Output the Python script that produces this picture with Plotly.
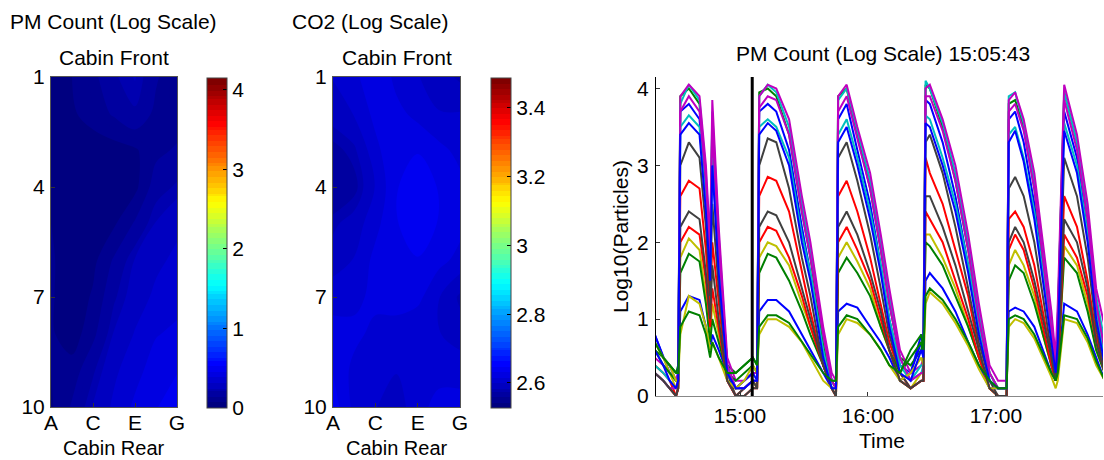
import plotly.graph_objects as go

W, H = 1104, 460
FONT = "Liberation Sans, Arial, sans-serif"

# ---------------- data: cabin grids ----------------
ROWS = [1, 2, 3, 4, 5, 6, 7, 8, 9, 10]
COLS = ["A", "B", "C", "D", "E", "F", "G"]
COL_TICKS = ["A", "C", "E", "G"]
ROW_TICKS = [1, 4, 7, 10]

PM_GRID = [
    [0.05, 0.07, 0.12, 0.20, 0.25, 0.15, 0.08],
    [0.05, 0.06, 0.10, 0.15, 0.20, 0.12, 0.10],
    [0.05, 0.04, 0.03, 0.04, 0.06, 0.12, 0.15],
    [0.06, 0.03, 0.02, 0.02, 0.05, 0.18, 0.22],
    [0.07, 0.03, 0.02, 0.06, 0.15, 0.25, 0.30],
    [0.08, 0.03, 0.05, 0.15, 0.25, 0.30, 0.33],
    [0.08, 0.02, 0.08, 0.20, 0.28, 0.33, 0.36],
    [0.08, 0.03, 0.12, 0.25, 0.32, 0.38, 0.40],
    [0.07, 0.10, 0.20, 0.30, 0.36, 0.42, 0.45],
    [0.06, 0.15, 0.25, 0.33, 0.40, 0.45, 0.50],
]

CO2_GRID = [
    [2.60, 2.61, 2.63, 2.61, 2.60, 2.59, 2.58],
    [2.59, 2.60, 2.62, 2.62, 2.61, 2.60, 2.60],
    [2.57, 2.58, 2.61, 2.63, 2.63, 2.62, 2.61],
    [2.56, 2.57, 2.60, 2.63, 2.64, 2.63, 2.62],
    [2.58, 2.59, 2.61, 2.63, 2.64, 2.63, 2.62],
    [2.59, 2.60, 2.62, 2.63, 2.63, 2.62, 2.61],
    [2.61, 2.61, 2.62, 2.62, 2.62, 2.60, 2.58],
    [2.62, 2.62, 2.61, 2.61, 2.60, 2.60, 2.59],
    [2.63, 2.61, 2.60, 2.60, 2.60, 2.61, 2.61],
    [2.64, 2.61, 2.60, 2.59, 2.61, 2.62, 2.62],
]

PM_RANGE = [0, 4.15]
PM_CB_TICKS = [0, 1, 2, 3, 4]
CO2_RANGE = [2.527, 3.487]
CO2_CB_TICKS = [2.6, 2.8, 3.0, 3.2, 3.4]
CO2_CB_TEXT = ["2.6", "2.8", "3", "3.2", "3.4"]

# ---------------- data: time series ----------------
DATE = "2012-01-01"
TIMES = [
    "14:20", "14:24", "14:27", "14:30", "14:31", "14:32", "14:36", "14:41", "14:44", "14:46", "14:47", "14:50", "14:54", "14:58", "15:02", "15:06",
    "15:08", "15:09", "15:13", "15:17", "15:23", "15:29", "15:33", "15:39", "15:43",
    "15:45", "15:46", "15:50", "15:55", "16:01", "16:06", "16:10", "16:15", "16:20", "16:25",
    "16:26", "16:27", "16:29", "16:35", "16:41", "16:47", "16:52", "16:57", "17:01", "17:04",
    "17:05", "17:06", "17:09", "17:13", "17:18", "17:22", "17:26", "17:28",
    "17:29", "17:32", "17:38", "17:43", "17:47", "17:51",
]

s01_blue = [0.8, 0.5, 0.3, 0.2, 0.3, 3.7, 3.8, 3.6, 2.6, 1.6, 3.3, 1.8, 0.4, 0.1, 0.2, 0.3,
            0.3, 3.7, 3.8, 3.7, 3.2, 2.2, 1.6, 0.6, 0.2,
            0.1, 3.6, 3.8, 3.2, 2.5, 1.7, 1.0, 0.4, 0.3, 0.8,
            0.6, 3.85, 3.8, 3.3, 2.6, 1.7, 0.9, 0.2, 0.1, 0.1,
            0.1, 3.6, 3.7, 3.3, 2.5, 1.6, 0.8, 0.3,
            0.8, 3.7, 3.1, 2.1, 1.1, 0.5]
s02_green = [0.6, 0.5, 0.4, 0.3, 0.4, 3.9, 4.0, 3.8, 2.8, 1.8, 3.6, 2.0, 0.4, 0.3, 0.4, 0.5,
             0.4, 3.95, 4.0, 3.9, 3.4, 2.4, 1.8, 0.7, 0.2,
             0.2, 3.9, 4.0, 3.4, 2.7, 1.9, 1.2, 0.5, 0.4, 0.6,
             0.7, 4.05, 4.0, 3.5, 2.8, 1.9, 1.0, 0.3, 0.1, 0.1,
             0.1, 3.8, 3.85, 3.5, 2.7, 1.8, 0.9, 0.4,
             1.0, 3.95, 3.3, 2.3, 1.2, 0.6]
s03_red = [0.4, 0.3, 0.2, 0.0, 0.1, 2.6, 2.8, 2.7, 1.9, 1.1, 2.0, 1.2, 0.2, 0.0, 0.1, 0.2,
           0.1, 2.6, 2.85, 2.8, 2.4, 1.6, 1.1, 0.4, 0.1,
           0.0, 2.6, 2.8, 2.4, 1.8, 1.2, 0.7, 0.3, 0.1, 0.2,
           0.2, 3.1, 2.9, 2.5, 1.9, 1.3, 0.6, 0.1, 0.0, 0.0,
           0.0, 2.3, 2.4, 2.2, 1.7, 1.1, 0.5, 0.2,
           0.4, 2.6, 2.2, 1.5, 0.8, 0.3]
s04_cyan = [0.4, 0.3, 0.2, 0.1, 0.2, 3.8, 4.05, 3.85, 2.9, 1.9, 3.7, 2.1, 0.4, 0.1, 0.1, 0.2,
            0.2, 3.9, 4.05, 3.95, 3.5, 2.5, 1.9, 0.8, 0.2,
            0.1, 3.85, 4.0, 3.45, 2.8, 2.0, 1.3, 0.5, 0.2, 0.3,
            0.4, 4.1, 4.0, 3.55, 2.9, 2.0, 1.1, 0.3, 0.1, 0.1,
            0.1, 3.9, 3.95, 3.55, 2.8, 1.9, 1.0, 0.4,
            1.0, 3.95, 3.3, 2.4, 1.3, 0.7]
s05_magenta = [0.5, 0.4, 0.3, 0.2, 0.3, 3.9, 4.05, 3.9, 3.0, 2.0, 3.85, 2.2, 0.5, 0.2, 0.2, 0.3,
               0.3, 3.9, 4.05, 4.0, 3.6, 2.6, 2.0, 0.9, 0.3,
               0.2, 3.9, 4.05, 3.5, 2.9, 2.1, 1.4, 0.6, 0.3, 0.4,
               0.5, 4.0, 4.05, 3.6, 3.0, 2.1, 1.2, 0.4, 0.2, 0.2,
               0.2, 3.85, 3.95, 3.6, 2.9, 2.0, 1.1, 0.5,
               1.2, 4.05, 3.4, 2.5, 1.4, 0.9]
s06_yellow = [0.7, 0.5, 0.3, 0.1, 0.1, 1.8, 2.05, 1.9, 1.3, 0.8, 1.2, 0.8, 0.2, 0.1, 0.1, 0.2,
              0.1, 1.8, 2.0, 1.95, 1.7, 1.2, 0.9, 0.4, 0.1,
              0.0, 1.8, 2.0, 1.75, 1.4, 0.9, 0.6, 0.2, 0.1, 0.3,
              0.3, 2.1, 2.1, 1.8, 1.4, 0.9, 0.5, 0.1, 0.0, 0.0,
              0.0, 1.7, 1.9, 1.7, 1.3, 0.8, 0.4, 0.2,
              0.3, 1.95, 1.7, 1.2, 0.6, 0.3]
s07_gray = [0.3, 0.2, 0.1, 0.0, 0.1, 3.0, 3.3, 3.1, 2.2, 1.3, 2.5, 1.4, 0.3, 0.0, 0.1, 0.2,
            0.1, 3.0, 3.35, 3.3, 2.7, 1.8, 1.3, 0.4, 0.1,
            0.0, 3.1, 3.3, 2.8, 2.1, 1.4, 0.8, 0.3, 0.1, 0.2,
            0.2, 3.3, 3.4, 2.9, 2.2, 1.4, 0.7, 0.2, 0.0, 0.0,
            0.0, 2.7, 2.85, 2.6, 2.0, 1.3, 0.6, 0.2,
            0.5, 3.1, 2.6, 1.8, 0.9, 0.3]
s08_blue = [0.8, 0.5, 0.4, 0.2, 0.2, 1.1, 1.3, 1.25, 0.9, 0.6, 0.8, 0.6, 0.3, 0.1, 0.2, 0.3,
            0.2, 1.1, 1.25, 1.25, 1.1, 0.8, 0.6, 0.3, 0.1,
            0.1, 1.1, 1.2, 1.15, 0.9, 0.7, 0.5, 0.2, 0.3, 0.7,
            0.6, 1.5, 1.6, 1.4, 1.1, 0.7, 0.4, 0.1, 0.1, 0.1,
            0.1, 1.1, 1.15, 1.1, 0.9, 0.6, 0.3, 0.2,
            0.3, 1.2, 1.1, 0.8, 0.5, 0.2]
s09_green = [0.6, 0.4, 0.3, 0.2, 0.2, 1.6, 1.85, 1.75, 1.2, 0.7, 1.0, 0.7, 0.3, 0.2, 0.3, 0.4,
             0.3, 1.6, 1.85, 1.8, 1.5, 1.1, 0.8, 0.4, 0.2,
             0.1, 1.6, 1.8, 1.6, 1.3, 0.9, 0.6, 0.3, 0.5, 0.7,
             0.5, 2.0, 1.95, 1.7, 1.3, 0.9, 0.5, 0.2, 0.1, 0.1,
             0.1, 1.5, 1.7, 1.6, 1.2, 0.8, 0.4, 0.2,
             0.4, 1.8, 1.6, 1.1, 0.6, 0.3]
s10_red = [0.3, 0.2, 0.1, 0.0, 0.1, 2.0, 2.2, 2.1, 1.5, 0.9, 1.4, 0.9, 0.2, 0.0, 0.0, 0.1,
           0.1, 2.0, 2.2, 2.15, 1.8, 1.3, 0.9, 0.4, 0.1,
           0.0, 2.0, 2.2, 1.9, 1.5, 1.0, 0.6, 0.2, 0.1, 0.2,
           0.2, 2.4, 2.3, 2.0, 1.5, 1.0, 0.5, 0.1, 0.0, 0.0,
           0.0, 1.9, 2.1, 1.9, 1.4, 0.9, 0.4, 0.2,
           0.3, 2.1, 1.8, 1.3, 0.7, 0.3]
s11_cyan = [0.3, 0.2, 0.1, 0.1, 0.2, 3.5, 3.65, 3.5, 2.5, 1.6, 3.1, 1.7, 0.3, 0.1, 0.1, 0.2,
            0.2, 3.5, 3.6, 3.5, 3.1, 2.1, 1.6, 0.6, 0.1,
            0.1, 3.4, 3.6, 3.1, 2.4, 1.7, 1.0, 0.4, 0.2, 0.4,
            0.4, 3.65, 3.6, 3.1, 2.5, 1.7, 0.9, 0.2, 0.1, 0.1,
            0.1, 3.4, 3.5, 3.1, 2.4, 1.6, 0.8, 0.3,
            0.8, 3.55, 3.0, 2.1, 1.1, 0.5]
s12_magenta = [0.3, 0.2, 0.1, 0.1, 0.2, 3.7, 3.9, 3.7, 2.8, 1.8, 3.5, 2.0, 0.4, 0.1, 0.1, 0.2,
               0.2, 3.75, 3.9, 3.85, 3.4, 2.4, 1.8, 0.8, 0.2,
               0.1, 3.7, 3.9, 3.35, 2.7, 1.9, 1.2, 0.5, 0.2, 0.3,
               0.3, 3.9, 3.9, 3.45, 2.8, 1.9, 1.0, 0.3, 0.1, 0.1,
               0.1, 3.7, 3.8, 3.45, 2.7, 1.8, 0.9, 0.4,
               0.9, 3.85, 3.2, 2.3, 1.2, 0.6]
s13_yellow = [0.7, 0.5, 0.4, 0.2, 0.2, 0.8, 1.3, 1.2, 0.9, 0.6, 0.7, 0.5, 0.2, 0.1, 0.2, 0.4,
              0.3, 0.8, 1.0, 1.0, 0.9, 0.7, 0.5, 0.2, 0.1,
              0.1, 0.8, 1.0, 0.95, 0.8, 0.6, 0.4, 0.2, 0.3, 0.5,
              0.4, 1.2, 1.35, 1.2, 0.95, 0.65, 0.35, 0.1, 0.1, 0.1,
              0.1, 0.9, 1.0, 0.95, 0.75, 0.5, 0.25, 0.1,
              0.2, 1.0, 0.95, 0.7, 0.4, 0.2]
s14_gray = [0.3, 0.2, 0.1, 0.0, 0.1, 2.2, 2.4, 2.3, 1.6, 1.0, 1.7, 1.0, 0.2, 0.0, 0.0, 0.1,
            0.1, 2.2, 2.4, 2.35, 2.0, 1.4, 1.0, 0.4, 0.1,
            0.0, 2.2, 2.4, 2.1, 1.6, 1.1, 0.6, 0.2, 0.1, 0.2,
            0.2, 2.6, 2.6, 2.2, 1.7, 1.1, 0.6, 0.1, 0.0, 0.0,
            0.0, 2.0, 2.2, 2.0, 1.5, 1.0, 0.5, 0.2,
            0.4, 2.3, 2.0, 1.4, 0.7, 0.3]
s15_blue = [0.6, 0.4, 0.2, 0.1, 0.2, 3.4, 3.55, 3.4, 2.4, 1.5, 3.0, 1.6, 0.3, 0.1, 0.1, 0.2,
            0.2, 3.4, 3.55, 3.45, 3.0, 2.0, 1.5, 0.5, 0.1,
            0.1, 3.3, 3.5, 3.0, 2.3, 1.6, 0.9, 0.3, 0.2, 0.6,
            0.5, 3.55, 3.5, 3.0, 2.4, 1.6, 0.8, 0.2, 0.1, 0.1,
            0.1, 3.3, 3.45, 3.05, 2.3, 1.5, 0.7, 0.3,
            0.7, 3.45, 2.9, 2.0, 1.0, 0.4]
s16_green = [0.7, 0.5, 0.4, 0.3, 0.3, 0.9, 1.1, 1.05, 0.8, 0.5, 0.7, 0.5, 0.3, 0.3, 0.4, 0.5,
             0.4, 0.9, 1.05, 1.05, 0.95, 0.7, 0.55, 0.3, 0.2,
             0.2, 0.9, 1.05, 1.0, 0.8, 0.6, 0.4, 0.3, 0.6, 0.8,
             0.6, 1.3, 1.4, 1.25, 1.0, 0.7, 0.4, 0.2, 0.1, 0.1,
             0.1, 1.0, 1.05, 1.0, 0.8, 0.55, 0.3, 0.2,
             0.3, 1.05, 1.0, 0.75, 0.45, 0.2]

SERIES = [s01_blue, s02_green, s03_red, s04_cyan, s05_magenta, s06_yellow, s07_gray, s08_blue,
          s09_green, s10_red, s11_cyan, s12_magenta, s13_yellow, s14_gray, s15_blue, s16_green]
SERIES_COLORS = ["rgb(0,0,255)", "rgb(0,128,0)", "rgb(255,0,0)", "rgb(0,191,191)",
                 "rgb(191,0,191)", "rgb(191,191,0)", "rgb(64,64,64)"]

MARK_TIME = "15:05:43"
TIME_RANGE = ["14:20:36", "17:50:12"]
TIME_TICKS = ["15:00", "16:00", "17:00"]
Y3_RANGE = [0, 4.15]
Y3_TICKS = [0, 1, 2, 3, 4]


# ---------------- helpers ----------------
def fx(px):
    return px / W


def fy(py):
    return 1 - py / H


def jet(v):
    c = lambda t: max(0.0, min(1.0, t))
    return (c(1.5 - abs(4 * v - 3)), c(1.5 - abs(4 * v - 2)), c(1.5 - abs(4 * v - 1)))


JET = []
N = 64
for i in range(N):
    r, g, b = jet(i / (N - 1))
    col = f"rgb({round(r*255)},{round(g*255)},{round(b*255)})"
    JET.append([i / N, col])
    JET.append([(i + 1) / N, col])

FS = 21
tick_font = dict(family=FONT, size=FS, color="black")

fig = go.Figure()

col_idx = list(range(len(COLS)))


def cbar(x_left, tickvals, ticktext):
    return dict(
        x=fx(x_left), xanchor="left", xpad=0, ypad=0,
        y=fy(243), yanchor="middle", len=330 / H, lenmode="fraction",
        thickness=20, thicknessmode="pixels",
        tickvals=tickvals, ticktext=ticktext, ticks="inside", ticklen=4,
        tickcolor="black", tickfont=tick_font, outlinecolor="#444", outlinewidth=1,
    )


fig.add_trace(go.Contour(
    x=col_idx, y=ROWS, z=PM_GRID, colorscale=JET, zmin=PM_RANGE[0], zmax=PM_RANGE[1],
    autocontour=False,
    contours=dict(start=PM_RANGE[0], end=PM_RANGE[1], size=0.035, coloring="fill", showlines=False),
    line=dict(width=0), hoverinfo="skip",
    colorbar=cbar(207, PM_CB_TICKS, [str(v) for v in PM_CB_TICKS]),
    xaxis="x", yaxis="y",
))

fig.add_trace(go.Contour(
    x=col_idx, y=ROWS, z=CO2_GRID, colorscale=JET, zmin=CO2_RANGE[0], zmax=CO2_RANGE[1],
    autocontour=False,
    contours=dict(start=CO2_RANGE[0], end=CO2_RANGE[1], size=0.008, coloring="fill", showlines=False),
    line=dict(width=0), hoverinfo="skip",
    colorbar=cbar(491, CO2_CB_TICKS, CO2_CB_TEXT),
    xaxis="x2", yaxis="y2",
))

xs = [f"{DATE} {t}" for t in TIMES]
for i, s in enumerate(SERIES):
    fig.add_trace(go.Scatter(
        x=xs, y=s, mode="lines",
        line=dict(color=SERIES_COLORS[i % len(SERIES_COLORS)], width=2),
        showlegend=False, hoverinfo="skip", xaxis="x3", yaxis="y3",
    ))

heat_x = dict(range=[0, 6], tickvals=[COLS.index(c) for c in COL_TICKS], ticktext=COL_TICKS,
              ticks="inside", ticklen=4, tickcolor="#333", showline=True, linecolor="#555",
              linewidth=1, mirror=True, showgrid=False, zeroline=False, tickfont=tick_font,
              ticklabelstandoff=-3)
heat_y = dict(range=[10, 1], tickvals=ROW_TICKS, ticktext=[str(v) for v in ROW_TICKS],
              ticks="inside", ticklen=4, tickcolor="#333", showline=True, linecolor="#555",
              linewidth=1, mirror=True, showgrid=False, zeroline=False, tickfont=tick_font,
              ticklabelstandoff=1)

fig.update_layout(
    width=W, height=H, margin=dict(l=0, r=0, t=0, b=0, pad=0, autoexpand=False),
    paper_bgcolor="white", plot_bgcolor="white",
    font=dict(family=FONT, size=FS, color="black"),
    showlegend=False,
    xaxis=dict(domain=[fx(51), fx(177)], anchor="y", **heat_x),
    yaxis=dict(domain=[fy(407), fy(77)], anchor="x", **heat_y),
    xaxis2=dict(domain=[fx(333), fx(460)], anchor="y2", **heat_x),
    yaxis2=dict(domain=[fy(407), fy(77)], anchor="x2", **heat_y),
    xaxis3=dict(domain=[fx(656), fx(1103)], anchor="y3", type="date",
                range=[f"{DATE} {t}" for t in TIME_RANGE],
                tickvals=[f"{DATE} {t}" for t in TIME_TICKS], ticktext=TIME_TICKS,
                ticks="inside", ticklen=4, tickcolor="#333", showline=True, linecolor="#888",
                showgrid=False, zeroline=False, tickfont=tick_font, ticklabelstandoff=1),
    yaxis3=dict(domain=[fy(396), fy(77)], anchor="x3", range=Y3_RANGE, tickvals=Y3_TICKS,
                ticks="inside", ticklen=4, tickcolor="#333", showline=True, linecolor="black",
                showgrid=False, zeroline=False, tickfont=tick_font, ticklabelstandoff=2),
)

fig.add_shape(type="line", xref="x3", yref="y3 domain",
              x0=f"{DATE} {MARK_TIME}", x1=f"{DATE} {MARK_TIME}", y0=0, y1=1,
              line=dict(color="black", width=3))

ann_font = dict(family=FONT, size=FS, color="black")
anns = [
    ("PM Count (Log Scale)", 9, 22, "left", "middle", FS, 0),
    ("Cabin Front", 114, 57, "center", "middle", FS, 0),
    ("Cabin Rear", 114, 460, "center", "bottom", 20, 0),
    ("CO2 (Log Scale)", 291, 22, "left", "middle", FS, 0),
    ("Cabin Front", 397, 57, "center", "middle", FS, 0),
    ("Cabin Rear", 397, 460, "center", "bottom", 20, 0),
    ("PM Count (Log Scale) 15:05:43", 883, 53, "center", "middle", FS, 0),
    ("Time", 882, 440, "center", "middle", FS, 0),
    ("Log10(Particles)", 620, 237, "center", "middle", FS, -90),
]
for text, x, y, xa, ya, size, ang in anns:
    fig.add_annotation(text=text, x=fx(x), y=fy(y), xref="paper", yref="paper",
                       xanchor=xa, yanchor=ya, showarrow=False,
                       font=dict(family=FONT, size=size, color="black"),
                       textangle=ang, borderpad=0)

fig.write_html("out.html")
